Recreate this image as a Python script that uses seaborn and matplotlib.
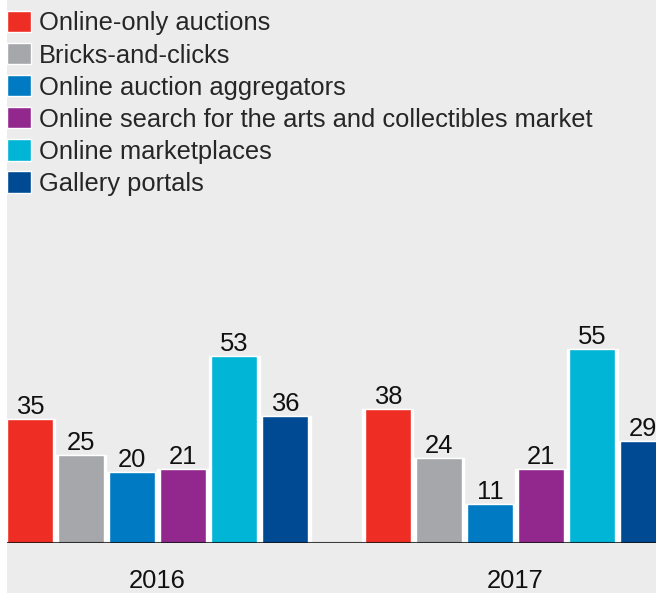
import matplotlib
matplotlib.use("Agg")
import matplotlib.pyplot as plt
from matplotlib.patches import Rectangle
import pandas as pd
import seaborn as sns

# Share of respondents using each online channel, by year
years = ["2016", "2017"]
channels = [
    "Online-only auctions",
    "Bricks-and-clicks",
    "Online auction aggregators",
    "Online search for the arts and collectibles market",
    "Online marketplaces",
    "Gallery portals",
]
values_2016 = [35, 25, 20, 21, 53, 36]
values_2017 = [38, 24, 11, 21, 55, 29]
colors = ["#ee2e24", "#a6a7aa", "#007ac3", "#92288e", "#00b5d6", "#004a93"]

rows = []
for year, vals in zip(years, [values_2016, values_2017]):
    for ch, v in zip(channels, vals):
        rows.append({"year": year, "channel": ch, "value": v})
df = pd.DataFrame(rows)

sns.set_theme(style="white")
plt.rcParams["font.family"] = ["Liberation Sans", "DejaVu Sans"]
FS = 18.4

W, H = 656, 593
fig = plt.figure(figsize=(W / 100, H / 100), dpi=100)
fig.patch.set_facecolor("#ececec")
fig.add_artist(Rectangle((0, 0), 7 / W, 1, transform=fig.transFigure,
                         facecolor="white", edgecolor="none", zorder=0))

ax = fig.add_axes([7 / W, 50 / H, 649 / W, 543 / H])
ax.set_facecolor("none")

# white slot underlay gives the thin white separators between bars
sns.barplot(data=df, x="year", y="value", hue="channel", hue_order=channels,
            palette=["white"] * len(channels), width=0.855, gap=0,
            saturation=1, legend=False, ax=ax, errorbar=None)
sns.barplot(data=df, x="year", y="value", hue="channel", hue_order=channels,
            palette=colors, width=0.855, gap=0.1, saturation=1,
            ax=ax, errorbar=None)

for cont in ax.containers[len(channels):]:
    ax.bar_label(cont, fmt="%d", padding=0, fontsize=FS, color="#111111")

ax.set_xlim(-0.4204, 1.3925)
ax.set_ylim(0, 153.8)
ax.axhline(0, color="black", alpha=0.75, lw=1.5, zorder=10)

for s in ax.spines.values():
    s.set_visible(False)
ax.set_yticks([])
ax.set_xlabel("")
ax.set_ylabel("")
ax.tick_params(axis="x", length=0, pad=19, labelsize=FS, labelcolor="#111111")

sns.move_legend(
    ax, "upper left", bbox_to_anchor=(7 / W, 1 - 11 / H),
    bbox_transform=fig.transFigure, title=None, frameon=False,
    fontsize=FS, borderpad=0, borderaxespad=0, handlelength=0.94,
    handleheight=0.9, handletextpad=0.31, labelspacing=0.30,
)

fig.savefig("out.png", dpi=100, facecolor=fig.get_facecolor())
